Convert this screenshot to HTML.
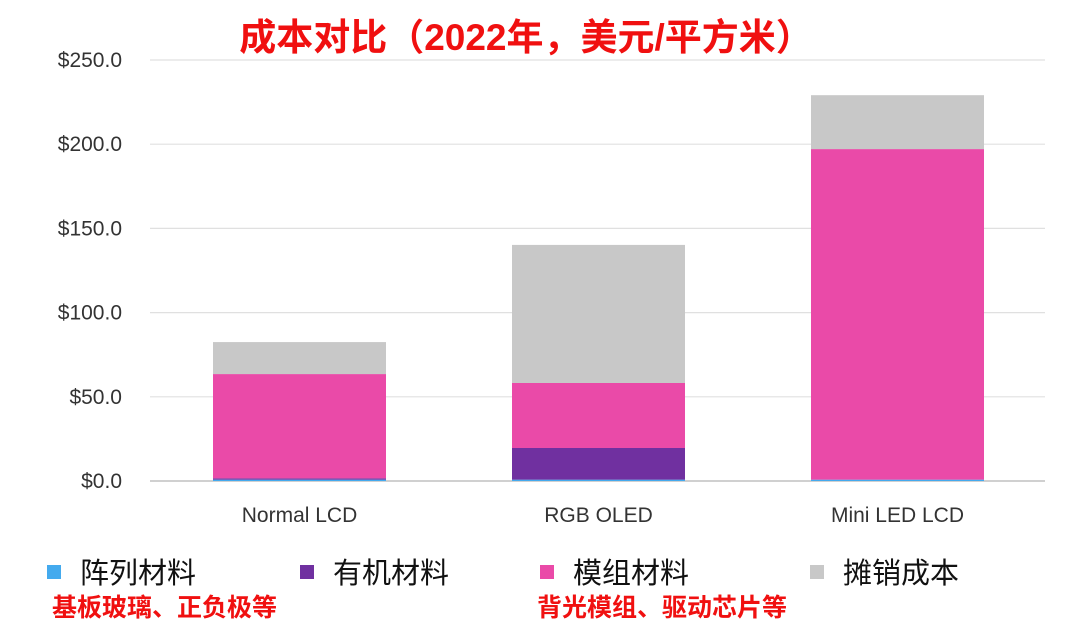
<!DOCTYPE html>
<html><head><meta charset="utf-8"><style>
body{margin:0;background:#fff;}
svg{display:block;font-family:"Liberation Sans","Noto Sans CJK SC",sans-serif;}
</style></head><body>
<svg id="chart" width="1080" height="639" viewBox="0 0 1080 639"></svg>
<script>
const categories = ["Normal LCD","RGB OLED","Mini LED LCD"];
const arrayMat = [0.8, 0.8, 0.8];
const organicMat = [0.8, 18.8, 0];
const moduleMat = [61.9, 38.6, 196.3];
const amortCost = [19, 82, 32];
const yTicks = [0,50,100,150,200,250];
const yTickLabels = ["$0.0","$50.0","$100.0","$150.0","$200.0","$250.0"];
const seriesNames = ["阵列材料","有机材料","模组材料","摊销成本"];

const NS="http://www.w3.org/2000/svg";
const svg=document.getElementById('chart');
function el(t,a,p){const e=document.createElementNS(NS,t);for(const k in a)e.setAttribute(k,a[k]);(p||svg).appendChild(e);return e;}
const y0=481, yTop=60, x0=150, x1=1045;
const yScale=v=>y0-(v/250)*(y0-yTop);
const bandW=299, plotLeft=150;
const xCenter=i=>plotLeft+bandW*(i+0.5);
const barW=173;

const title=el('text',{x:526,y:50,'text-anchor':'middle','font-size':37,'font-weight':'bold',fill:'#f01010'});
title.textContent="成本对比（2022年，美元/平方米）";



yTicks.forEach((t,i)=>{
  const g=el('line',{x1:x0,x2:x1,y1:yScale(t),y2:yScale(t),stroke:i==0?'#d0d0d0':'#e0e0e0','stroke-width':i==0?2:1.2});
  
  
  const l=el('text',{x:122,y:yScale(t)+7,'text-anchor':'end','font-size':21,fill:'#333'});
  l.textContent=yTickLabels[i];
  
  
});

const series=[arrayMat,organicMat,moduleMat,amortCost];
const colors=['#44aaee','#7030a0','#ea4aa8','#c8c8c8'];
categories.forEach((c,i)=>{
  let acc=0;
  series.forEach((s,j)=>{
    const v=s[i]; if(v<=0)return;
    const r=el('rect',{x:xCenter(i)-barW/2,y:yScale(acc+v),width:barW,height:yScale(acc)-yScale(acc+v),fill:colors[j]});
    
    
    acc+=v;
  });
  const l=el('text',{x:xCenter(i),y:522,'text-anchor':'middle','font-size':21,fill:'#333'});
  l.textContent=c;
  
  
});

const legX=[47,300,540,810];
seriesNames.forEach((n,j)=>{
  const r=el('rect',{x:legX[j],y:565,width:14,height:14,fill:colors[j]});
  
  
  const t=el('text',{x:legX[j]+33,y:583,'font-size':29,fill:'#111'});
  t.textContent=n;
  
  
});
const n1=el('text',{x:52,y:616,'font-size':25,'font-weight':'bold',fill:'#f01010'});
n1.textContent="基板玻璃、正负极等";


const n2=el('text',{x:537,y:616,'font-size':25,'font-weight':'bold',fill:'#f01010'});
n2.textContent="背光模组、驱动芯片等";


</script>
</body></html>
